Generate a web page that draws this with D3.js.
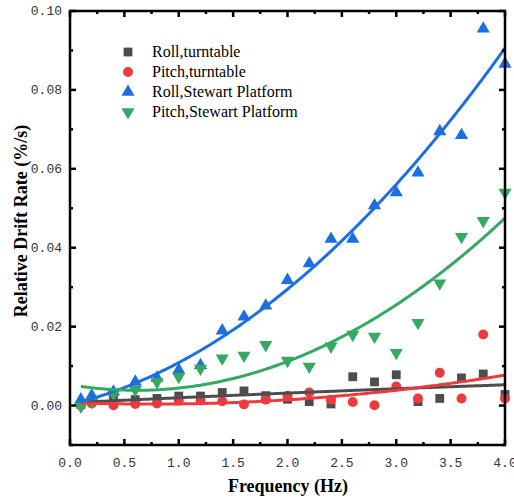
<!DOCTYPE html>
<html lang="en">
<head>
  <meta charset="UTF-8">
  <title>Relative Drift Rate</title>
  <script src="https://d3js.org/d3.v7.min.js"></script>
  <style>
    body { margin: 0; background: #fff; }
    svg { display: block; }
    .tick-label { font-family: "Liberation Mono", monospace; font-size: 13px; fill: #333; }
    .title { font-family: "Liberation Serif", serif; font-weight: bold; font-size: 18px; fill: #000; }
    .legend text { font-family: "Liberation Serif", serif; font-size: 16px; fill: #000; }
  </style>
</head>
<body>
  <svg width="514" height="500"></svg>
  <script>
    const freq = [0.1, 0.2, 0.4, 0.6, 0.8, 1.0, 1.2, 1.4, 1.6, 1.8, 2.0, 2.2, 2.4, 2.6, 2.8, 3.0, 3.2, 3.4, 3.6, 3.8, 4.0];

    const rollTurntable = [0.0003, 0.001, 0.0015, 0.0015, 0.0018, 0.0024, 0.0024, 0.0033, 0.0037, 0.0025, 0.0016,
      0.001, 0.0004, 0.0073, 0.006, 0.0078, 0.001, 0.0018, 0.007, 0.008, 0.0028];
    const pitchTurntable = [0.0, 0.0005, 0.0001, 0.0004, 0.0005, 0.0013, 0.0013, 0.0011, 0.0003, 0.0015, 0.0025,
      0.0033, 0.0015, 0.0009, 0.0001, 0.0048, 0.0018, 0.0083, 0.0018, 0.018, 0.0018];
    const rollStewart = [0.0015, 0.0025, 0.0035, 0.006, 0.007, 0.009, 0.0102, 0.019, 0.0225, 0.0253, 0.0318,
      0.036, 0.0422, 0.0422, 0.0507, 0.054, 0.059, 0.0695, 0.0685, 0.0955, 0.0866];
    const pitchStewart = [-0.0002, 0.001, 0.003, 0.004, 0.006, 0.0073, 0.0094, 0.012, 0.0127, 0.0154, 0.0114,
      0.0099, 0.015, 0.018, 0.0175, 0.0134, 0.021, 0.031, 0.0428, 0.0468, 0.054];

    const seriesNames = ["Roll,turntable", "Pitch,turntable", "Roll,Stewart Platform", "Pitch,Stewart Platform"];
    const seriesColors = ["#4d4d4d", "#ec3b3f", "#1b6fe0", "#35a862"];
    const seriesSymbols = [d3.symbolSquare, d3.symbolCircle, d3.symbolTriangle, d3.symbolTriangle];
    const seriesValues = [rollTurntable, pitchTurntable, rollStewart, pitchStewart];

    const xTicks = [0, 0.5, 1, 1.5, 2, 2.5, 3, 3.5, 4];
    const yTicks = [0, 0.02, 0.04, 0.06, 0.08, 0.10];

    const svg = d3.select("svg");
    const plotLeft = 70, plotRight = 505, plotTop = 11, plotBottom = 445;

    const x = d3.scaleLinear().domain([0, 4]).range([plotLeft, plotRight]);
    const y = d3.scaleLinear().domain([-0.01, 0.10]).range([plotBottom, plotTop]);

    // quadratic least squares fit
    function quadFit(xs, ys) {
      const s = [0, 0, 0, 0, 0], t = [0, 0, 0];
      xs.forEach((xv, i) => {
        for (let k = 0; k < 5; k++) s[k] += Math.pow(xv, k);
        for (let k = 0; k < 3; k++) t[k] += ys[i] * Math.pow(xv, k);
      });
      const m = [[s[0], s[1], s[2], t[0]], [s[1], s[2], s[3], t[1]], [s[2], s[3], s[4], t[2]]];
      for (let i = 0; i < 3; i++) {
        for (let j = i + 1; j < 3; j++) {
          const f = m[j][i] / m[i][i];
          for (let k = i; k < 4; k++) m[j][k] -= f * m[i][k];
        }
      }
      const c = [0, 0, 0];
      for (let i = 2; i >= 0; i--) {
        let v = m[i][3];
        for (let k = i + 1; k < 3; k++) v -= m[i][k] * c[k];
        c[i] = v / m[i][i];
      }
      return xv => c[0] + c[1] * xv + c[2] * xv * xv;
    }

    const symbolSize = [78, 78, 75, 75];

    // points
    seriesValues.forEach((vals, si) => {
      svg.append("g").selectAll("path")
        .data(vals)
        .enter()
        .append("path")
        .attr("d", d3.symbol().type(seriesSymbols[si]).size(symbolSize[si]))
        .attr("transform", (d, i) => `translate(${x(freq[i])},${y(d)})` + (si === 3 ? " rotate(180)" : ""))
        .attr("fill", seriesColors[si]);
    });

    // fit lines
    const fitX = d3.range(0.1, 4.0001, 0.02);
    seriesValues.forEach((vals, si) => {
      const f = quadFit(freq, vals);
      svg.append("path")
        .datum(fitX)
        .attr("fill", "none")
        .attr("stroke", seriesColors[si])
        .attr("stroke-width", 3)
        .attr("d", d3.line().x(d => x(d)).y(d => y(f(d))));
    });

    // frame
    svg.append("rect")
      .attr("x", plotLeft).attr("y", plotTop)
      .attr("width", plotRight - plotLeft).attr("height", plotBottom - plotTop)
      .attr("fill", "none").attr("stroke", "#000").attr("stroke-width", 2.5);

    // ticks, inward on all sides
    const ticks = svg.append("g").attr("stroke", "#000").attr("stroke-width", 2.5);
    d3.range(0, 4.001, 0.25).forEach(v => {
      const len = Math.abs(v * 2 - Math.round(v * 2)) < 1e-6 ? 6 : 3;
      ticks.append("line").attr("x1", x(v)).attr("x2", x(v)).attr("y1", plotBottom).attr("y2", plotBottom - len);
      ticks.append("line").attr("x1", x(v)).attr("x2", x(v)).attr("y1", plotTop).attr("y2", plotTop + len);
    });
    d3.range(-0.01, 0.1001, 0.01).forEach(v => {
      const len = Math.round(v * 100) % 2 === 0 ? 6 : 3;
      ticks.append("line").attr("x1", plotLeft).attr("x2", plotLeft + len).attr("y1", y(v)).attr("y2", y(v));
      ticks.append("line").attr("x1", plotRight).attr("x2", plotRight - len).attr("y1", y(v)).attr("y2", y(v));
    });

    // tick labels
    svg.append("g").selectAll("text")
      .data(xTicks)
      .enter()
      .append("text")
      .attr("class", "tick-label")
      .attr("x", d => x(d))
      .attr("y", 467)
      .attr("text-anchor", "middle")
      .text(d => d.toFixed(1));

    svg.append("g").selectAll("text")
      .data(yTicks)
      .enter()
      .append("text")
      .attr("class", "tick-label")
      .attr("x", 62)
      .attr("y", d => y(d) + 4)
      .attr("text-anchor", "end")
      .text(d => d.toFixed(2));

    // axis titles
    svg.append("text")
      .attr("class", "title")
      .attr("x", 288)
      .attr("y", 492)
      .attr("text-anchor", "middle")
      .text("Frequency (Hz)");

    svg.append("text")
      .attr("class", "title")
      .attr("transform", "translate(27,221) rotate(-90)")
      .attr("text-anchor", "middle")
      .text("Relative Drift Rate (%/s)");

    // legend
    const legend = svg.append("g").attr("class", "legend");
    seriesNames.forEach((name, i) => {
      const ly = 52 + i * 20;
      legend.append("path")
        .attr("d", d3.symbol().type(seriesSymbols[i]).size(symbolSize[i]))
        .attr("transform", `translate(128,${ly})` + (i === 3 ? " rotate(180)" : ""))
        .attr("fill", seriesColors[i]);
      legend.append("text")
        .attr("x", 152)
        .attr("y", ly + 5)
        .text(name);
    });
  </script>
</body>
</html>
